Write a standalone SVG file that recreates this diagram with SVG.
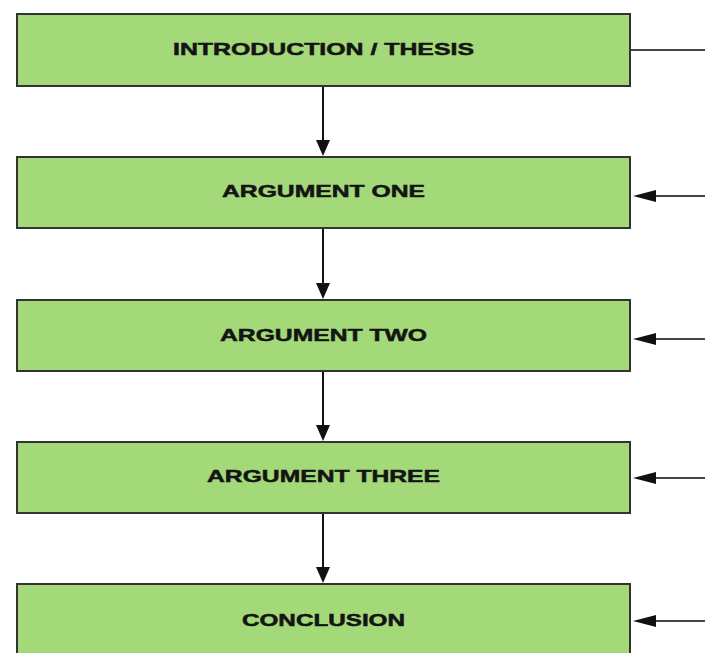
<svg xmlns="http://www.w3.org/2000/svg" width="705" height="653" viewBox="0 0 705 653">
<style>
.box{fill:#a3d978;stroke:#333;stroke-width:2}
.lbl{font-family:"Liberation Sans",Arial,sans-serif;font-weight:bold;font-size:17px;fill:#141414;stroke:#141414;stroke-width:0.5;text-anchor:middle}
.con{stroke:#111;stroke-width:2;fill:none}
.side{stroke:#444;stroke-width:1.8;fill:none}
.head{fill:#111}
</style>
<rect width="705" height="653" fill="#fff"/>
<g id="n1"><rect class="box" x="17" y="14" width="613" height="72"/><text class="lbl" x="323.5" y="55" textLength="301" lengthAdjust="spacingAndGlyphs">INTRODUCTION / THESIS</text></g>
<g id="n2"><rect class="box" x="17" y="157" width="613" height="71"/><text class="lbl" x="323.5" y="197" textLength="203" lengthAdjust="spacingAndGlyphs">ARGUMENT ONE</text></g>
<g id="n3"><rect class="box" x="17" y="300" width="613" height="71"/><text class="lbl" x="323.5" y="341" textLength="207" lengthAdjust="spacingAndGlyphs">ARGUMENT TWO</text></g>
<g id="n4"><rect class="box" x="17" y="442" width="613" height="71"/><text class="lbl" x="323.5" y="482" textLength="233" lengthAdjust="spacingAndGlyphs">ARGUMENT THREE</text></g>
<g id="n5"><rect class="box" x="17" y="584" width="613" height="80"/><text class="lbl" x="323.5" y="626" textLength="163" lengthAdjust="spacingAndGlyphs">CONCLUSION</text></g>
<g id="connectors">
<line class="con" x1="323" y1="87" x2="323" y2="142"/>
<path class="head" d="M323,156 L316,140 L330,140 Z"/>
<line class="con" x1="323" y1="229" x2="323" y2="285"/>
<path class="head" d="M323,299 L316,283 L330,283 Z"/>
<line class="con" x1="323" y1="372" x2="323" y2="427"/>
<path class="head" d="M323,441 L316,425 L330,425 Z"/>
<line class="con" x1="323" y1="514" x2="323" y2="569"/>
<path class="head" d="M323,583 L316,567 L330,567 Z"/>
<line class="side" x1="631" y1="50" x2="705" y2="50"/>
<line class="side" x1="652" y1="196" x2="705" y2="196"/>
<path class="head" d="M633,196 L656,190 L656,202 Z"/>
<line class="side" x1="652" y1="339" x2="705" y2="339"/>
<path class="head" d="M633,339 L656,333 L656,345 Z"/>
<line class="side" x1="652" y1="478" x2="705" y2="478"/>
<path class="head" d="M633,478 L656,472 L656,484 Z"/>
<line class="side" x1="652" y1="621" x2="705" y2="621"/>
<path class="head" d="M633,621 L656,615 L656,627 Z"/>
</g>
</svg>
